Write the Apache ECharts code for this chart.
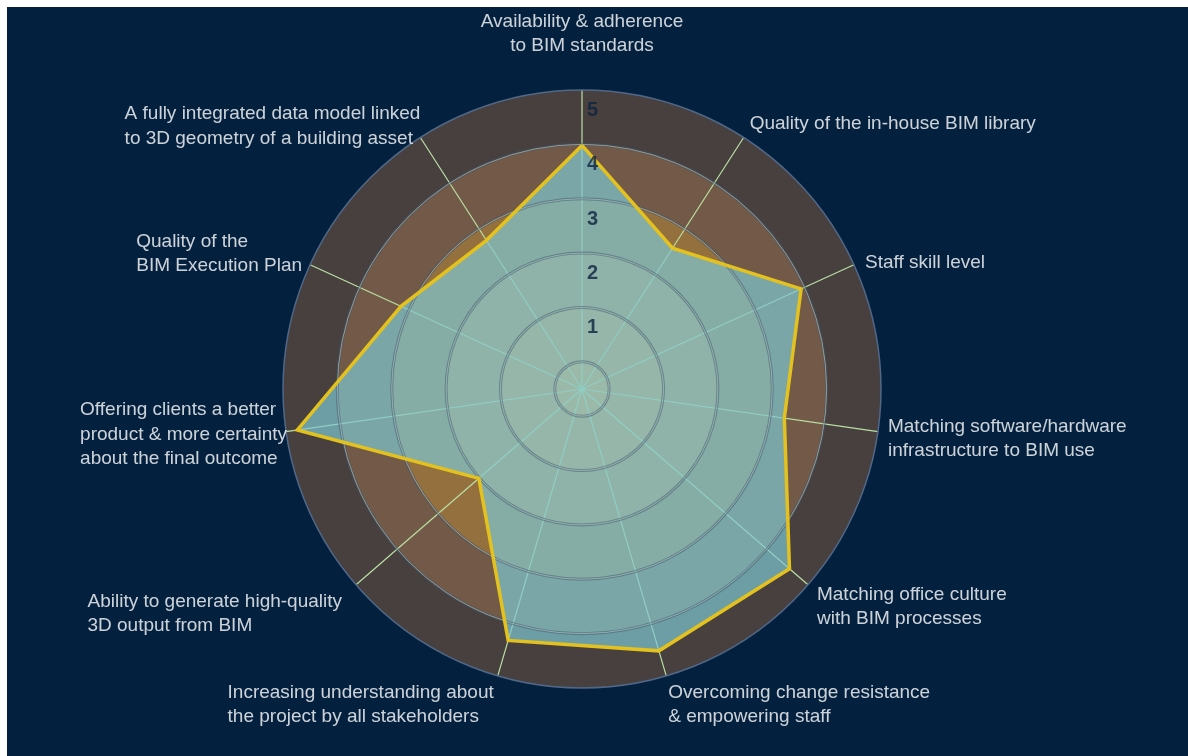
<!DOCTYPE html>
<html><head><meta charset="utf-8">
<script src="https://cdn.jsdelivr.net/npm/echarts@6/dist/echarts.min.js"></script>
<style>
html,body{margin:0;padding:0;background:#ffffff;width:1188px;height:756px;overflow:hidden}
#c{position:absolute;left:7px;top:7px;width:1181px;height:749px;}
</style>
</head><body><div id="c"></div>
<script>
// ---- data ----
const categories = [
  'Availability & adherence\nto BIM standards',
  'Quality of the in-house BIM library',
  'Staff skill level',
  'Matching software/hardware\ninfrastructure to BIM use',
  'Matching office culture\nwith BIM processes',
  'Overcoming change resistance\n& empowering staff',
  'Increasing understanding about\nthe project by all stakeholders',
  'Ability to generate high-quality\n3D output from BIM',
  'Offering clients a better\nproduct & more certainty\nabout the final outcome',
  'Quality of the\nBIM Execution Plan',
  'A fully integrated data model linked\nto 3D geometry of a building asset'
];
const scores = [3.98, 2.58, 3.93, 3.26, 4.55, 4.52, 4.32, 2.01, 4.79, 3.16, 2.75];
const tickLabels = [1, 2, 3, 4, 5];
const axisMin = -0.5;
const axisMax = 5;
const ringMax = 4;

// ---- styles / layout ----
const FONT = '"Liberation Sans", Arial, Helvetica, sans-serif';
const CENTER = [575, 382];
const RADIUS = 299;
const span = axisMax - axisMin;
const r0 = RADIUS * (0 - axisMin) / span;        // radius of value 0
const r4 = RADIUS * (ringMax - axisMin) / span;  // radius of value 4
const discColor = '#dc9c4c';                                                   // [-0.5,0]
const bandColors = ['#c8924a', '#b4874a', '#95703f', '#735a48', '#48403f'];    // [0,1]..[4,5]
const ringEdge = 'rgba(58,88,104,0.48)';
const ringCore = 'rgba(192,202,206,0.55)';
const labelLayout = [
  {align: 'center', offset: [0, -56]},
  {align: 'left', offset: [6, -14]},
  {align: 'left', offset: [11, -2.5]},
  {align: 'left', offset: [10, 7]},
  {align: 'left', offset: [9, 22]},
  {align: 'left', offset: [2, 29]},
  {align: 'right', offset: [-4, 29]},
  {align: 'right', offset: [-14, 29]},
  {align: 'right', offset: [1, 3]},
  {align: 'right', offset: [-8, -11]},
  {align: 'right', offset: [0, -11]}
];

const n = categories.length;
const linePoints = scores.map((v, i) => [v, i]).concat([[scores[0], n]]);
const hiddenAngle = (idx) => ({polarIndex: idx, type: 'value', min: 0, max: n, show: false});
const plain = {axisLine: {show: false}, axisTick: {show: false}, axisLabel: {show: false}};

const chart = echarts.init(document.getElementById('c'), null, {renderer: 'canvas'});
chart.setOption({
  animation: false,
  backgroundColor: '#03213e',
  polar: [
    {center: CENTER, radius: RADIUS},
    {center: CENTER, radius: [r0, RADIUS]},
    {center: CENTER, radius: [r0, r4]},
    {center: CENTER, radius: [r0, r4]}
  ],
  angleAxis: [
    {
      polarIndex: 0, type: 'value', min: 0, max: n, interval: 1,
      startAngle: 90, clockwise: true, z: 1,
      axisLine: {show: true, lineStyle: {color: '#4f6788', width: 1.5}},
      axisTick: {show: false}, axisLabel: {show: false},
      splitLine: {show: true, lineStyle: {color: '#b8e0a2', width: 1.2}},
      splitArea: {show: false}
    },
    hiddenAngle(1), hiddenAngle(2), hiddenAngle(3)
  ],
  radiusAxis: [
    Object.assign({
      polarIndex: 0, type: 'value', min: axisMin, max: axisMax, z: 0,
      splitLine: {show: false},
      splitArea: {show: true, areaStyle: {color: discColor}}
    }, plain),
    Object.assign({
      polarIndex: 1, type: 'value', min: 0, max: axisMax, interval: 1, z: 0,
      splitLine: {show: false},
      splitArea: {show: true, areaStyle: {color: bandColors}}
    }, plain),
    Object.assign({
      polarIndex: 2, type: 'value', min: 0, max: ringMax, interval: 1, z: 3,
      splitLine: {show: true, lineStyle: {color: ringEdge, width: 3}},
      splitArea: {show: false}
    }, plain),
    Object.assign({
      polarIndex: 3, type: 'value', min: 0, max: ringMax, interval: 1, z: 3,
      splitLine: {show: true, lineStyle: {color: ringCore, width: 1}},
      splitArea: {show: false}
    }, plain)
  ],
  series: [
    {
      type: 'line', coordinateSystem: 'polar', polarIndex: 0,
      data: linePoints, symbol: 'none', smooth: false, clip: false, z: 2, silent: true,
      lineStyle: {width: 0, opacity: 0},
      areaStyle: {color: 'rgb(127,198,209)', opacity: 0.7, origin: 'start'}
    },
    {
      type: 'line', coordinateSystem: 'polar', polarIndex: 0,
      data: linePoints, symbol: 'none', smooth: false, clip: false, z: 4, silent: true,
      lineStyle: {color: '#e3c11e', width: 3.5, join: 'miter'}
    },
    {
      type: 'scatter', coordinateSystem: 'polar', polarIndex: 0,
      symbolSize: 0, clip: false, z: 5, silent: true,
      data: categories.map((name, i) => ({
        name: name,
        value: [axisMax, i],
        label: {align: labelLayout[i].align, offset: labelLayout[i].offset}
      })),
      label: {
        show: true, position: 'inside', verticalAlign: 'middle',
        formatter: function (p) {
          const key = labelLayout[p.dataIndex].align === 'center' ? 'c' : 't';
          return p.name.split('\n').map(s => '{' + key + '|' + s + '}').join('\n');
        },
        rich: {
          t: {align: 'left', color: '#ffffff', fontSize: 19, lineHeight: 24.5, fontFamily: FONT},
          c: {align: 'center', color: '#ffffff', fontSize: 19, lineHeight: 24.5, fontFamily: FONT}
        }
      }
    },
    {
      type: 'scatter', coordinateSystem: 'polar', polarIndex: 0,
      symbolSize: 0, clip: false, z: 5, silent: true,
      data: tickLabels.map(v => [v, 0]),
      label: {
        show: true, position: 'inside', align: 'left', verticalAlign: 'middle',
        offset: [5, 20.5],
        formatter: p => String(p.value[0]),
        color: '#0c2340', fontSize: 20, fontWeight: 'bold', fontFamily: FONT
      }
    }
  ]
});
</script>
</body></html>
